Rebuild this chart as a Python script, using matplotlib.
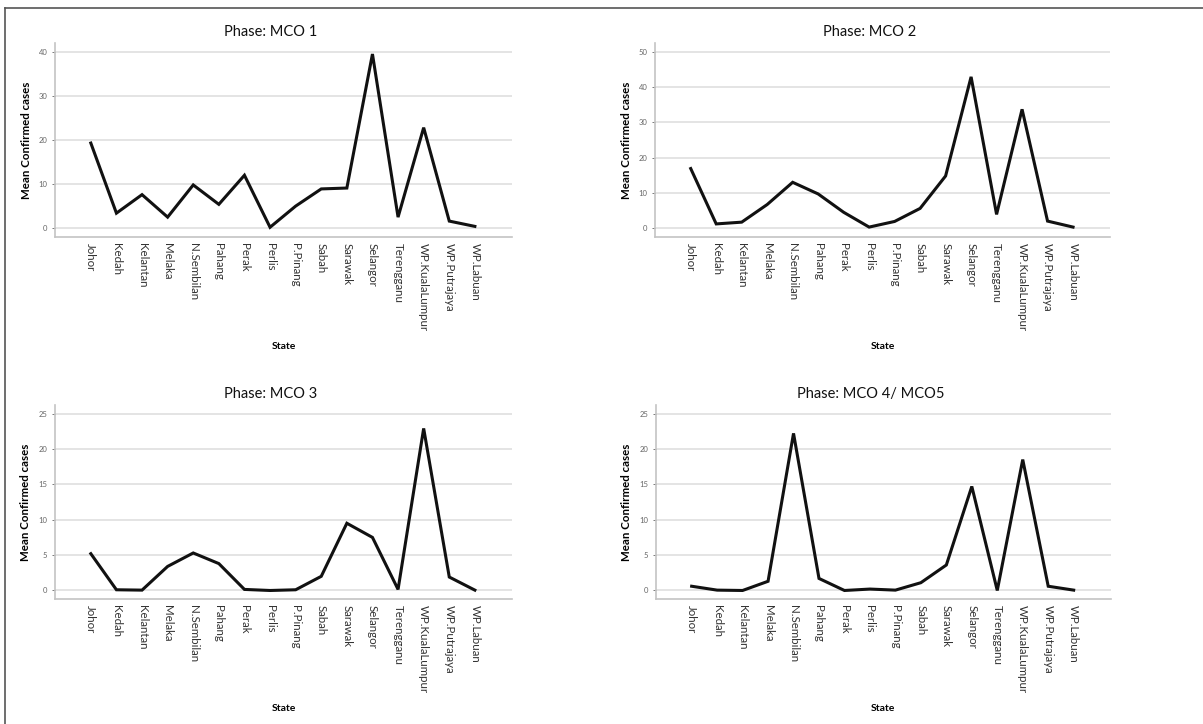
import matplotlib.pyplot as plt
from matplotlib.lines import Line2D

states = ["Johor", "Kedah", "Kelantan", "Melaka", "N.Sembilan", "Pahang", "Perak",
          "Perlis", "P.Pinang", "Sabah", "Sarawak", "Selangor", "Terengganu",
          "WP.KualaLumpur", "WP.Putrajaya", "WP.Labuan"]

mco1 = [19.3, 3.4, 7.6, 2.5, 9.8, 5.4, 12.0, 0.2, 5.0, 8.9, 9.1, 39.5, 2.5, 22.8, 1.6, 0.4]
mco2 = [16.9, 1.2, 1.7, 6.7, 13.0, 9.7, 4.5, 0.3, 1.9, 5.6, 14.8, 42.9, 3.9, 33.7, 2.0, 0.3]
mco3 = [5.2, 0.1, 0.05, 3.4, 5.3, 3.8, 0.15, 0.0, 0.1, 2.0, 9.5, 7.5, 0.15, 22.9, 1.9, 0.05]
mco45 = [0.6, 0.05, 0.0, 1.3, 22.2, 1.7, 0.0, 0.2, 0.05, 1.1, 3.6, 14.7, 0.0, 18.5, 0.6, 0.05]

titles = ["Phase: MCO 1", "Phase: MCO 2", "Phase: MCO 3", "Phase: MCO 4/ MCO5"]
series = [mco1, mco2, mco3, mco45]
yticks = [[0, 10, 20, 30, 40], [0, 10, 20, 30, 40, 50],
          [0, 5, 10, 15, 20, 25], [0, 5, 10, 15, 20, 25]]

plt.rcParams['font.family'] = ['Lato', 'DejaVu Sans']

fig = plt.figure(figsize=(12.03, 7.24), dpi=100)

# axes boxes [left, bottom, width, height] in figure fractions
boxes = [[0.0457, 0.6727, 0.3799, 0.2679],
         [0.5445, 0.6727, 0.3782, 0.2679],
         [0.0457, 0.1722, 0.3799, 0.2688],
         [0.5453, 0.1722, 0.3779, 0.2688]]

x = list(range(len(states)))
for box, title, vals, yt in zip(boxes, titles, series, yticks):
    ax = fig.add_axes(box)
    ax.plot(x, vals, color='#111111', lw=2.2, solid_joinstyle='miter', zorder=3)
    top = yt[-1]
    pad = top * 0.05
    ax.set_ylim(-pad, top + pad)
    ax.set_xlim(-1.4, 16.45)
    ax.set_yticks(yt)
    ax.set_xticks(x)
    ax.set_xticklabels(states, rotation=-90, fontsize=8.3, color='#333333')
    ax.tick_params(axis='y', labelsize=5.5, colors='#666666', length=2, width=0.6)
    ax.tick_params(axis='x', length=0, pad=4)
    ax.yaxis.grid(True, color='#e4e4e4', lw=1.4)
    ax.set_axisbelow(True)
    for s in ['top', 'right']:
        ax.spines[s].set_visible(False)
    for s in ['left', 'bottom']:
        ax.spines[s].set_color('#c4c4c4')
        ax.spines[s].set_linewidth(1.2)
    ax.set_ylabel('Mean Confirmed cases', fontsize=8.3, fontweight='bold', labelpad=5)
    ax.set_xlabel('State', fontsize=7.5, fontweight='bold', labelpad=8)
    ax.set_title(title, fontsize=10.5, pad=5, color='#111111', x=0.472)

# outer frame: only top and left edges are visible
fig.add_artist(Line2D([0.004, 1.0], [0.989, 0.989], color='#555555', lw=1.2))
fig.add_artist(Line2D([0.004, 0.004], [0.0, 0.989], color='#555555', lw=1.2))

fig.savefig('out.png', dpi=100)
